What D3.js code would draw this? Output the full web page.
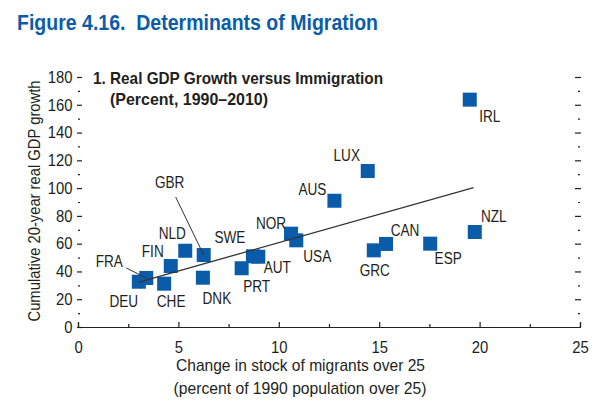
<!DOCTYPE html>
<html>
<head>
<meta charset="utf-8">
<title>Determinants of Migration</title>
<script src="https://d3js.org/d3.v7.min.js"></script>
<style>
    body { margin: 0; background: #fff; }
    text { font-family: "Liberation Sans", Arial, sans-serif; fill: #231f20; }
</style>
</head>
<body>
<svg width="600" height="407"></svg>
<script>
    // data
    var countries = ["DEU", "FRA", "CHE", "FIN", "NLD", "GBR", "DNK", "PRT", "SWE", "AUT",
                     "NOR", "USA", "AUS", "LUX", "GRC", "CAN", "ESP", "NZL", "IRL"];
    var migrants = [3.03, 3.40, 4.29, 4.62, 5.34, 6.26, 6.22, 8.15, 8.71, 8.98,
                    10.61, 10.87, 12.77, 14.43, 14.73, 15.34, 17.54, 19.76, 19.51];
    var gdpGrowth = [32.6, 35.3, 31.2, 43.9, 54.9, 51.8, 35.5, 42.3, 50.9, 50.6,
                     67.2, 62.4, 90.9, 112.3, 55.2, 59.8, 60.0, 68.4, 163.7];
    var trendX = [3.0, 19.7];
    var trendY = [32.2, 100.3];
    var xTicks = [0, 5, 10, 15, 20, 25];
    var yTicks = [0, 20, 40, 60, 80, 100, 120, 140, 160, 180];

    var svg = d3.select("svg");
    var blue = "#0b5ca8";
    var ink = "#231f20";

    var x = d3.scaleLinear().domain([0, 25]).range([78, 580]);
    var y = d3.scaleLinear().domain([0, 180]).range([327, 77]);

    // condensed look: squeeze Liberation Sans to a given width
    function fitText(px, py, str, size, width, opts) {
        opts = opts || {};
        var t = svg.append("text")
            .attr("x", px).attr("y", py)
            .attr("font-size", size)
            .attr("textLength", width)
            .attr("lengthAdjust", "spacingAndGlyphs")
            .attr("xml:space", "preserve")
            .text(str);
        if (opts.bold) t.attr("font-weight", "bold");
        if (opts.fill) t.style("fill", opts.fill);
        if (opts.anchor) t.attr("text-anchor", opts.anchor);
        if (opts.transform) t.attr("transform", opts.transform);
        return t;
    }

    // titles
    fitText(17, 30, "Figure 4.16.  Determinants of Migration", 22, 361, {bold: true, fill: blue});
    fitText(93, 84, "1. Real GDP Growth versus Immigration", 17, 290, {bold: true});
    fitText(110, 105, "(Percent, 1990\u20132010)", 17, 158, {bold: true});

    // x axis: ticks point up into the plot
    svg.append("g").attr("transform", "translate(0,327)")
        .call(d3.axisBottom(x).tickValues(xTicks).tickSize(-5).tickPadding(14).tickFormat(d3.format("d")));
    svg.append("g").attr("transform", "translate(0,327)")
        .call(d3.axisBottom(x).tickValues(d3.range(2.5, 25, 5)).tickSize(-3).tickFormat(""))
        .select(".domain").remove();

    // left axis: floating ticks, no line
    svg.append("g").attr("transform", "translate(77,0)")
        .call(d3.axisLeft(y).tickValues(yTicks).tickSize(-5).tickPadding(5))
        .select(".domain").remove();
    svg.append("g").attr("transform", "translate(78,0)")
        .call(d3.axisLeft(y).tickValues(d3.range(10, 180, 20)).tickSize(-2).tickFormat(""))
        .select(".domain").remove();

    // right axis, no labels
    svg.append("g").attr("transform", "translate(581,0)")
        .call(d3.axisLeft(y).tickValues(yTicks.slice(1)).tickSize(6).tickFormat(""))
        .select(".domain").remove();
    svg.append("g").attr("transform", "translate(580,0)")
        .call(d3.axisLeft(y).tickValues(d3.range(10, 180, 20)).tickSize(2).tickFormat(""))
        .select(".domain").remove();

    svg.selectAll(".tick text")
        .attr("font-size", 16.5)
        .attr("transform", "scale(0.9,1)")
        .style("font-family", "'Liberation Sans', Arial, sans-serif")
        .style("fill", ink);
    svg.selectAll(".tick line, .domain").attr("stroke", ink).attr("stroke-width", 1.2);

    // axis titles
    fitText(300.5, 371, "Change in stock of migrants over 25", 17, 249, {anchor: "middle"});
    fitText(300, 394, "(percent of 1990 population over 25)", 17, 253, {anchor: "middle"});
    fitText(0, 0, "Cumulative 20-year real GDP growth", 17, 241,
        {anchor: "middle", transform: "translate(40,201) rotate(-90)"});

    // squares
    var s = 14;
    svg.append("g").selectAll("rect")
        .data(countries)
        .enter()
        .append("rect")
        .attr("x", function (d, i) { return x(migrants[i]) - s / 2; })
        .attr("y", function (d, i) { return y(gdpGrowth[i]) - s / 2; })
        .attr("width", s)
        .attr("height", s)
        .attr("fill", blue);

    // fitted line
    svg.append("line")
        .attr("x1", x(trendX[0])).attr("y1", y(trendY[0]))
        .attr("x2", x(trendX[1])).attr("y2", y(trendY[1]))
        .attr("stroke", "#333").attr("stroke-width", 1.3);

    // label placement, pixels relative to the square centre
    var labelOffset = {
        DEU: [-15, 25], FRA: [-37, -11], CHE: [7, 23], FIN: [-18, -9], NLD: [-13, -12],
        GBR: [-34, -67], DNK: [14, 26], PRT: [15, 24], SWE: [-23, -13], AUT: [19, 16],
        NOR: [-20, -5], USA: [21, 22], AUS: [-22, -6], LUX: [-21, -10], GRC: [1, 26],
        CAN: [19, -8], ESP: [18, 20], NZL: [19, -10], IRL: [20, 22]
    };
    var leaders = { FRA: [-20, -10], GBR: [-28, -58] };

    countries.forEach(function (c, i) {
        var px = x(migrants[i]), py = y(gdpGrowth[i]);
        if (leaders[c]) {
            svg.append("line")
                .attr("x1", px + leaders[c][0]).attr("y1", py + leaders[c][1])
                .attr("x2", px).attr("y2", py)
                .attr("stroke", "#333").attr("stroke-width", 1);
        }
        svg.append("text")
            .attr("transform", "translate(" + (px + labelOffset[c][0]) + "," + (py + labelOffset[c][1]) + ") scale(0.8,1)")
            .attr("text-anchor", "middle")
            .attr("font-size", 17)
            .text(c);
    });
</script>
</body>
</html>
